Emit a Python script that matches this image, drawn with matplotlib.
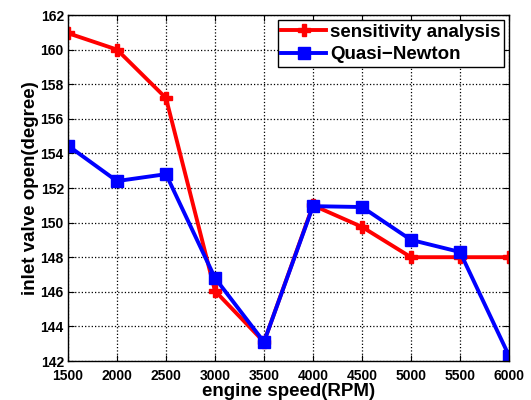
import matplotlib
matplotlib.use("Agg")
import matplotlib.pyplot as plt

# engine speed vs inlet valve open angle
speed = [1500, 2000, 2500, 3000, 3500, 4000, 4500, 5000, 5500, 6000]
sensitivity = [160.95, 160.0, 157.2, 146.05, 143.1, 151.0, 149.75, 148.0, 148.0, 148.0]
quasi_newton = [154.45, 152.4, 152.8, 146.8, 143.1, 150.95, 150.9, 149.0, 148.3, 142.3]

xticks = [1500, 2000, 2500, 3000, 3500, 4000, 4500, 5000, 5500, 6000]
yticks = [142, 144, 146, 148, 150, 152, 154, 156, 158, 160, 162]

plt.rcParams['font.family'] = ['Liberation Sans', 'DejaVu Sans']
plt.rcParams['font.weight'] = 'bold'

fig = plt.figure(figsize=(5.31, 4.0), dpi=100)
ax = fig.add_axes([0.128, 0.0975, 0.8306, 0.865])

ax.plot(speed, sensitivity, color='red', lw=2.8, marker='P', markersize=9,
        label='sensitivity analysis')
ax.plot(speed, quasi_newton, color='blue', lw=2.8, marker='s', markersize=9,
        label='Quasi\u2212Newton')

ax.set_xlim(1500, 6000)
ax.set_ylim(142, 162)
ax.set_xticks(xticks)
ax.set_yticks(yticks)
ax.tick_params(direction='in', top=True, right=True, labelsize=10, length=4)
ax.tick_params(axis='x', pad=6)
ax.tick_params(axis='y', pad=3)
for lab in ax.get_xticklabels() + ax.get_yticklabels():
    lab.set_fontweight('bold')
ax.grid(True, color='black', linestyle=':', lw=0.9)
for s in ax.spines.values():
    s.set_linewidth(1.0)

ax.set_xlabel('engine speed(RPM)', fontsize=13.5, fontweight='bold', labelpad=0)
ax.set_ylabel('inlet valve open(degree)', fontsize=13.5, fontweight='bold', labelpad=1)

leg = ax.legend(loc='upper right', fancybox=False, framealpha=1,
                edgecolor='black', borderpad=0.2, handlelength=2.4,
                handletextpad=0.2, labelspacing=0.3, borderaxespad=0.25,
                prop={'weight': 'bold', 'size': 13.5})
leg.get_frame().set_linewidth(1.0)

fig.savefig('out.png', dpi=100)
